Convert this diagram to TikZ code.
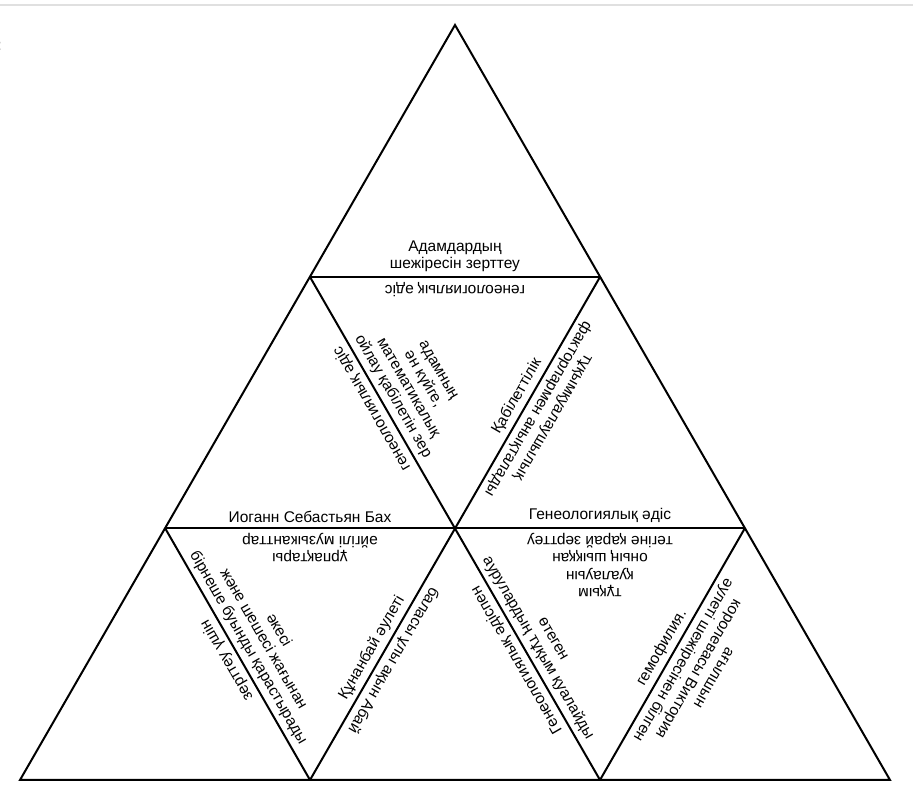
\documentclass[tikz,border=0pt]{standalone}
\usepackage{fontspec}
\setmainfont{Liberation Sans}
\usetikzlibrary{calc}

\tikzset{
	tline/.style={line width=2pt},
	piece/.style={anchor=south, align=center, inner sep=0pt, outer sep=5pt,
		font=\fontsize{15.5}{17.5}\selectfont},
}

\begin{document}
\begin{tikzpicture}[x=1pt,y=1pt]
	\useasboundingbox (0,0) rectangle (913,792);
	\draw[black!12, line width=2pt] (0,787) -- (913,787);
	\node[font=\fontsize{15.5}{17.5}\selectfont] (colon) at (-0.5,746) {:};

	\coordinate (T) at (455,767);
	\coordinate (L1) at (310,515);
	\coordinate (R1) at (600,515);
	\coordinate (L2) at (165,264);
	\coordinate (M2) at (455,264);
	\coordinate (R2) at (745,264);
	\coordinate (B0) at (20,12);
	\coordinate (B1) at (310,12);
	\coordinate (B2) at (600,12);
	\coordinate (B3) at (890,12);

	\draw[tline] (T) -- (B0) -- (B3) -- cycle;
	\draw[tline] (L1) -- (R1);
	\draw[tline] (L2) -- (R2);
	\draw[tline] (L1) -- (B2);
	\draw[tline] (R1) -- (B1);
	\draw[tline] (L2) -- (B1);
	\draw[tline] (R2) -- (B2);

	% top row
	\node[piece, rotate=0] (adam) at ($(L1)!.5!(R1)$) {Адамдардың\\шежіресін зерттеу};
	\node[piece, rotate=180] (genA) at ($(L1)!.5!(R1)$) {генеологиялық әдіс};

	% middle row
	\node[piece, rotate=120] (genB) at ($(L1)!.5!(M2)$) {генеологиялық әдіс};
	\node[piece, rotate=-60] (math) at ($(L1)!.5!(M2)$) {адамның\\ән күйге,\\математикалық\\ойлау қабілетін зер};
	\node[piece, rotate=60] (qabil) at ($(M2)!.5!(R1)$) {Қабілеттілік};
	\node[piece, rotate=240] (fact) at ($(M2)!.5!(R1)$) {тұқымқуалаушылық\\факторлармен анықталады};

	\node[piece, rotate=0] (bach) at ($(L2)!.5!(M2)$) {Иоганн Себастьян Бах};
	\node[piece, rotate=180] (urpaq) at ($(L2)!.5!(M2)$) {ұрпақтары\\әйгілі музыканттар};
	\node[piece, rotate=0] (genC) at ($(M2)!.5!(R2)$) {Генеологиялық әдіс};
	\node[piece, rotate=180] (tek) at ($(M2)!.5!(R2)$) {тұқым\\қуалауын\\оның шыққан\\тегіне қарай зерттеу};

	% bottom row
	\node[piece, rotate=120] (zert) at ($(L2)!.5!(B1)$) {зерттеу үшін};
	\node[piece, rotate=-60] (ake) at ($(L2)!.5!(B1)$) {әкесі\\және шешесі жағынан\\бірнеше буынды қарастырады};
	\node[piece, rotate=60] (qunan) at ($(B1)!.5!(M2)$) {Құнанбай әулеті};
	\node[piece, rotate=240] (abai) at ($(B1)!.5!(M2)$) {баласы ұлы ақын Абай};
	\node[piece, rotate=120] (genD) at ($(M2)!.5!(B2)$) {Генеологиялық әдіспен};
	\node[piece, rotate=-60] (aurul) at ($(M2)!.5!(B2)$) {өтеген\\аурулардың тұқым қуалайды};
	\node[piece, rotate=60] (gemo) at ($(B2)!.5!(R2)$) {гемофилия.};
	\node[piece, rotate=240] (vikt) at ($(B2)!.5!(R2)$) {ағылшын\\королевасы Виктория\\әулеті шежіресінен білген};
\end{tikzpicture}
\end{document}
